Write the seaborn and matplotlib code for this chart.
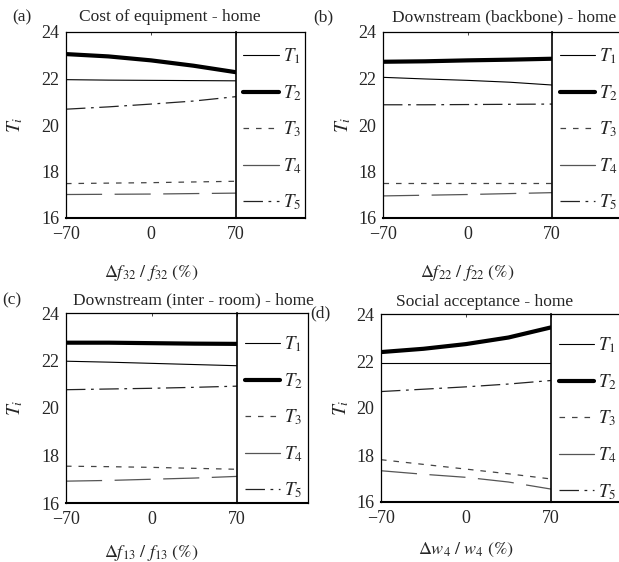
import numpy as np
import pandas as pd
import matplotlib
matplotlib.use('Agg')
import matplotlib.pyplot as plt
from matplotlib.lines import Line2D
import seaborn as sns

# data (x = relative change in %)
x_pct = [-70, -35, 0, 35, 70]

a_T1 = [21.95, 21.93, 21.92, 21.91, 21.90]
a_T2 = [23.05, 22.95, 22.78, 22.55, 22.27]
a_T3 = [17.48, 17.50, 17.52, 17.55, 17.58]
a_T4 = [17.01, 17.02, 17.03, 17.05, 17.07]
a_T5 = [20.68, 20.78, 20.90, 21.03, 21.22]

b_T1 = [22.05, 21.98, 21.92, 21.84, 21.72]
b_T2 = [22.72, 22.74, 22.78, 22.81, 22.85]
b_T3 = [17.52, 17.52, 17.52, 17.52, 17.52]
b_T4 = [16.95, 16.98, 17.01, 17.05, 17.09]
b_T5 = [20.87, 20.87, 20.88, 20.89, 20.90]

c_T1 = [21.97, 21.93, 21.88, 21.83, 21.78]
c_T2 = [22.75, 22.75, 22.73, 22.71, 22.70]
c_T3 = [17.55, 17.53, 17.50, 17.46, 17.42]
c_T4 = [16.92, 16.95, 17.00, 17.05, 17.12]
c_T5 = [20.77, 20.80, 20.83, 20.87, 20.92]

d_T1 = [21.91, 21.91, 21.91, 21.91, 21.91]
d_T2 = [22.38, 22.52, 22.72, 23.00, 23.43]
d_T3 = [17.80, 17.60, 17.40, 17.20, 16.98]
d_T4 = [17.33, 17.18, 17.05, 16.85, 16.55]
d_T5 = [20.70, 20.80, 20.90, 21.02, 21.17]

series_names = ['T1', 'T2', 'T3', 'T4', 'T5']
legend_labels = [r'$T_1$', r'$T_2$', r'$T_3$', r'$T_4$', r'$T_5$']
titles = ['Cost of equipment - home', 'Downstream (backbone) - home',
          'Downstream (inter - room) - home', 'Social acceptance - home']
panel_tags = ['(a)', '(b)', '(c)', '(d)']
xlabels = [r'$\Delta f_{32}\ /\ f_{32}\ (\%)$', r'$\Delta f_{22}\ /\ f_{22}\ (\%)$',
           r'$\Delta f_{13}\ /\ f_{13}\ (\%)$', r'$\Delta w_{4}\ /\ w_{4}\ (\%)$']
panel_values = [
    [a_T1, a_T2, a_T3, a_T4, a_T5],
    [b_T1, b_T2, b_T3, b_T4, b_T5],
    [c_T1, c_T2, c_T3, c_T4, c_T5],
    [d_T1, d_T2, d_T3, d_T4, d_T5],
]

# line styles (plot / legend)
styles = {
    'T1': dict(color='black', lw=0.8, ls='-'),
    'T2': dict(color='black', lw=3.0, ls='-'),
    'T3': dict(color='#444444', lw=0.9, ls=(0, (4, 5))),
    'T4': dict(color='#555555', lw=0.9, ls=(0, (26, 9))),
    'T5': dict(color='#222222', lw=0.9, ls=(0, (14, 4, 2, 4))),
}
legend_styles = dict(styles)
legend_styles['T4'] = dict(color='#555555', lw=0.9, ls='-')

sns.set_style('white')
plt.rcParams['font.family'] = ['Liberation Serif', 'DejaVu Serif']
plt.rcParams['mathtext.fontset'] = 'stix'
plt.rcParams['lines.scale_dashes'] = False

W, H = 619, 562
fig = plt.figure(figsize=(W / 100, H / 100), dpi=100)

# pixel boxes: (left, split, right, top, bottom)
boxes = [(66, 236, 305, 32, 218), (383, 552, 720, 32, 218),
         (66, 237, 308, 313, 503), (381, 551, 720, 314, 502)]
title_pos = [(170, 17), (504, 17), (193, 300), (485, 302)]
tag_pos = [(22, 17), (323, 17), (12, 300), (320, 313)]
ylab_off = [-41, -30, -41, -30]
xlab_off = [45, 45, 40, 39]
leg_top = [7, 7, 14, 14]

def fbox(l, r, t, b):
    return [l / W, 1 - b / H, (r - l) / W, (b - t) / H]

for i in range(4):
    l, s, r, t, b = boxes[i]
    ax = fig.add_axes(fbox(l, s, t, b))
    lax = fig.add_axes(fbox(s, r, t, b))
    lax.patch.set_visible(False)

    df = pd.DataFrame({'x': x_pct * 5,
                       'T': np.repeat(series_names, len(x_pct)),
                       'y': np.concatenate(panel_values[i])})
    for name in series_names:
        st = styles[name]
        sns.lineplot(data=df[df['T'] == name], x='x', y='y', ax=ax,
                     color=st['color'], linewidth=st['lw'], linestyle=st['ls'],
                     legend=False)

    ax.set_xlim(-70, 70)
    ax.set_ylim(16, 24)
    ax.set_xticks([-70, 0, 70])
    ax.set_yticks([16, 18, 20, 22, 24])
    ax.tick_params(direction='in', length=2.5, width=0.6, labelsize=13,
                   top=True, right=False)
    ax.tick_params(axis='x', pad=6)
    ax.tick_params(axis='y', pad=5)
    for sp in ax.spines.values():
        sp.set_color('black')
        sp.set_linewidth(0.9)
    ax.spines['bottom'].set_linewidth(1.5)
    ax.spines['right'].set_linewidth(1.2)
    ax.set_xlabel(xlabels[i], fontsize=13)
    ax.set_ylabel(r'$T_i$', fontsize=14)
    ax.xaxis.set_label_coords(0.5, -xlab_off[i] / (b - t))
    ax.yaxis.set_label_coords(ylab_off[i] / (s - l), 0.5)

    lax.set_xticks([])
    lax.set_yticks([])
    for sp in lax.spines.values():
        sp.set_color('black')
        sp.set_linewidth(0.9)
    lax.spines['left'].set_visible(False)
    lax.spines['bottom'].set_linewidth(1.5)

    handles = [Line2D([], [], color=legend_styles[n]['color'], lw=legend_styles[n]['lw'],
                      ls=legend_styles[n]['ls']) for n in series_names]
    ax.legend(handles, legend_labels, loc='upper left',
              bbox_to_anchor=(1.0, 1.0 - leg_top[i] / (b - t)), borderaxespad=0,
              frameon=False, fontsize=13.5, handlelength=1.9, handletextpad=0.2,
              labelspacing=0.9, borderpad=0.4)

    fig.text(title_pos[i][0] / W, 1 - title_pos[i][1] / H, titles[i],
             ha='center', va='center', fontsize=12.5)
    fig.text(tag_pos[i][0] / W, 1 - tag_pos[i][1] / H, panel_tags[i],
             ha='center', va='center', fontsize=12.5)

fig.savefig('out.png', dpi=100)
